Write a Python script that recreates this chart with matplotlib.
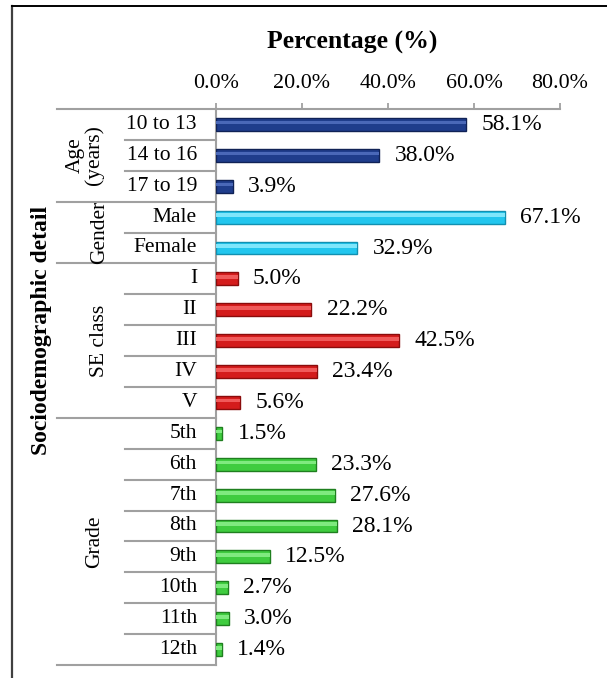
import matplotlib
matplotlib.use("Agg")
import matplotlib.pyplot as plt
import matplotlib.transforms as mtransforms
from matplotlib.lines import Line2D

plt.rcParams['font.family'] = ['Liberation Serif', 'DejaVu Serif']

# ---- data ----
groups = ["Age\n(years)", "Gender", "SE class", "Grade"]
age_labels = ["10 to 13", "14 to 16", "17 to 19"]
age_values = [58.1, 38.0, 3.9]
gender_labels = ["Male", "Female"]
gender_values = [67.1, 32.9]
se_labels = ["I", "II", "III", "IV", "V"]
se_values = [5.0, 22.2, 42.5, 23.4, 5.6]
grade_labels = ["5th", "6th", "7th", "8th", "9th", "10th", "11th", "12th"]
grade_values = [1.5, 23.3, 27.6, 28.1, 12.5, 2.7, 3.0, 1.4]
x_ticks = [0, 20, 40, 60, 80]

group_cats = [age_labels, gender_labels, se_labels, grade_labels]
group_vals = [age_values, gender_values, se_values, grade_values]
group_colors = ["#1f3d8c", "#22c6ee", "#d41c1c", "#3fcc3f"]
group_edges = ["#102256", "#1290b0", "#8a0c0c", "#1f7f1f"]
group_light = ["#4a68b8", "#7ee6fb", "#f05a5a", "#7fea7f"]

W, H = 607, 678
fig = plt.figure(figsize=(W / 100, H / 100), dpi=100)
ax = fig.add_axes([216 / W, 1 - 665 / H, (560 - 216) / W, (665 - 109) / H])

FS = 15.5
FSV = 17
pos = 0
starts = []
for cats, vals, c, ec, lc in zip(group_cats, group_vals, group_colors, group_edges, group_light):
    starts.append(pos)
    ys = list(range(pos, pos + len(cats)))
    ax.barh(ys, vals, height=0.42, color=c, edgecolor=ec, linewidth=1.0, zorder=3)
    ax.barh([y - 0.06 for y in ys], vals, height=0.12, color=lc, linewidth=0, zorder=4)
    for y, v in zip(ys, vals):
        ax.annotate(f"{v:.1f}%", (v, y), xytext=(11, 0), textcoords="offset points",
                    va="center", ha="left", fontsize=FSV, annotation_clip=False)
    pos += len(cats)
starts.append(pos)
n = pos

ax.set_ylim(n - 0.5, -0.5)
ax.set_xlim(0, 80)
ax.set_yticks([])
ax.xaxis.tick_top()
ax.set_xticks(x_ticks)
ax.set_xticklabels([f"{t:.1f}%" for t in x_ticks], fontsize=FS + 0.3)
ax.tick_params(axis="x", direction="out", length=4.5, width=1.3, color="#a0a0a0", pad=7)
for s in ["right", "bottom"]:
    ax.spines[s].set_visible(False)
for s in ["left", "top"]:
    ax.spines[s].set_color("#a0a0a0")
    ax.spines[s].set_linewidth(1.5)

fig.text(352 / W, 1 - 42 / H, "Percentage (%)", ha="center", va="center",
         fontsize=18.5, fontweight="bold")

# category labels and separators
trans = mtransforms.blended_transform_factory(fig.transFigure, ax.transData)
all_cats = [c for cats in group_cats for c in cats]
for i, c in enumerate(all_cats):
    fig.text(197 / W, i, c, transform=trans, ha="right", va="center", fontsize=FS)

for b in range(n + 1):
    x0 = 57 / W if b in starts else 125 / W
    fig.add_artist(Line2D([x0, 216 / W], [b - 0.5, b - 0.5], transform=trans,
                          color="#a0a0a0", lw=1.5, clip_on=False))

group_x = [85, 100, 100, 95]
for g, x, s0, s1 in zip(groups, group_x, starts[:-1], starts[1:]):
    fig.text(x / W, (s0 + s1 - 1) / 2, g, transform=trans, rotation=90,
             ha="center", va="center", fontsize=FS, multialignment="center", linespacing=0.95)

fig.text(42 / W, 1 - 330 / H, "Sociodemographic detail", rotation=90,
         ha="center", va="center", fontsize=17, fontweight="bold")

# outer frame
fig.add_artist(Line2D([11.5 / W, 11.5 / W], [1 - 6 / H, 0], transform=fig.transFigure,
                      color="#404040", lw=1.6))
fig.add_artist(Line2D([11.5 / W, 1], [1 - 6 / H, 1 - 6 / H], transform=fig.transFigure,
                      color="black", lw=1.4))

fig.savefig("out.png", dpi=100)
